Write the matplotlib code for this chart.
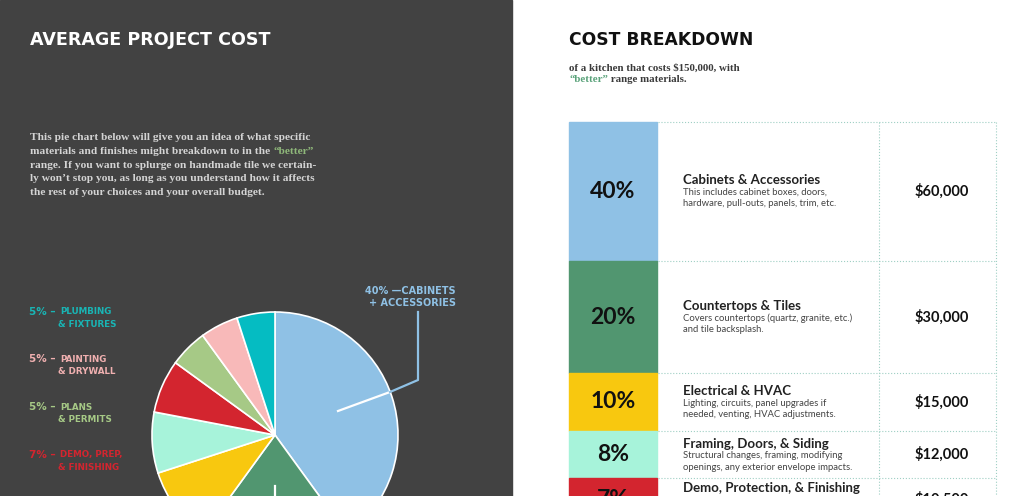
import numpy as np
import matplotlib.pyplot as plt
from matplotlib.patches import Rectangle

# data
pie_labels = ['Cabinets + Accessories', 'Countertops & Tiles', 'Electrical & HVAC',
              'Framing, Doors & Siding', 'Demo, Prep & Finishing', 'Plans & Permits',
              'Painting & Drywall', 'Plumbing & Fixtures']
pie_pcts = [40, 20, 10, 8, 7, 5, 5, 5]
pie_colors = ['#8fc1e5', '#519670', '#f8c80f', '#a7f3da', '#d3252f', '#a6c986', '#f8b9b9', '#05bcc2']

row_pcts = ['40%', '20%', '10%', '8%', '7%']
row_titles = ['Cabinets & Accessories', 'Countertops & Tiles', 'Electrical & HVAC',
              'Framing, Doors, & Siding', 'Demo, Protection, & Finishing']
row_desc = [['This includes cabinet boxes, doors,', 'hardware, pull-outs, panels, trim, etc.'],
            ['Covers countertops (quartz, granite, etc.)', 'and tile backsplash.'],
            ['Lighting, circuits, panel upgrades if', 'needed, venting, HVAC adjustments.'],
            ['Structural changes, framing, modifying', 'openings, any exterior envelope impacts.'],
            ['', '']]
row_amounts = ['$60,000', '$30,000', '$15,000', '$12,000', '$10,500']

# left side labels (pct, first line, second line, color)
side_labels = [('5% \u2013', 'PLUMBING', '& FIXTURES', '#19b5b5'),
               ('5% \u2013', 'PAINTING', '& DRYWALL', '#f0b0b0'),
               ('5% \u2013', 'PLANS', '& PERMITS', '#a6c986'),
               ('7% \u2013', 'DEMO, PREP,', '& FINISHING', '#d3252f')]

W, H = 1024, 496
def py(y):
    return H - y

fig = plt.figure(figsize=(10.24, 4.96), dpi=100)
ax = fig.add_axes([0, 0, 1, 1])
ax.set_xlim(0, W)
ax.set_ylim(0, H)
ax.axis('off')

# left dark panel
ax.add_patch(Rectangle((0, 0), 512, H, color='#424242', zorder=0))

ax.text(30, py(40), 'AVERAGE PROJECT COST', color='white', fontsize=12.6,
        fontweight='bold', family='DejaVu Sans', va='center')

serif = 'Liberation Serif'
para = ['This pie chart below will give you an idea of what specific',
        'materials and finishes might breakdown to in the ',
        'range. If you want to splurge on handmade tile we certain-',
        'ly won\u2019t stop you, as long as you understand how it affects',
        'the rest of your choices and your overall budget.']
for i, line in enumerate(para):
    t = ax.text(30, py(138 + i * 13.6), line, color='#d4d4d4', fontsize=8.2,
                family=serif, fontweight='bold', va='center')
    if i == 1:
        ax.annotate('\u201cbetter\u201d', xy=(1, 0), xycoords=t, color='#8fb87a',
                    fontsize=8.2, family=serif, fontweight='bold', va='bottom')

# pie
ax.pie(pie_pcts, colors=pie_colors, startangle=90, counterclock=False,
       center=(275, py(435)), radius=123,
       wedgeprops=dict(edgecolor='white', linewidth=1.2))
ax.set_xlim(0, W)
ax.set_ylim(0, H)
ax.set_aspect('equal')

# leader lines
ax.plot([338, 390], [py(411), py(392)], color='white', lw=1.6, zorder=5)
ax.plot([390, 418, 418], [py(392), py(380), py(312)], color='#8fc1e5', lw=1.6, zorder=5)
ax.plot([275, 275], [py(486), py(498)], color='white', lw=1.6, zorder=5, clip_on=False)

ax.text(456, py(291), '40% \u2014CABINETS', color='#8fc1e5', fontsize=7,
        fontweight='bold', ha='right', va='center')
ax.text(456, py(303), '+ ACCESSORIES', color='#8fc1e5', fontsize=7,
        fontweight='bold', ha='right', va='center')

for i, (p, l1, l2, c) in enumerate(side_labels):
    y0 = 312 + i * 47.5
    ax.text(29, py(y0), p, color=c, fontsize=7.5, fontweight='bold', va='center')
    ax.text(60, py(y0), l1, color=c, fontsize=6.3, fontweight='bold', va='center')
    ax.text(58, py(y0 + 12.5), l2, color=c, fontsize=6.3, fontweight='bold', va='center')

# right side
ax.text(569, py(40), 'COST BREAKDOWN', color='#111111', fontsize=12.3,
        fontweight='bold', family='DejaVu Sans', va='center')
ax.text(569, py(68), 'of a kitchen that costs $150,000, with', color='#3a3a3a',
        fontsize=7.8, family=serif, fontweight='bold', va='center')
t = ax.text(569, py(80), '\u201cbetter\u201d', color='#5aa27a', fontsize=7.8,
            family=serif, fontweight='bold', va='center')
ax.annotate(' range materials.', xy=(1, 0), xycoords=t, color='#3a3a3a',
            fontsize=7.8, family=serif, fontweight='bold', va='bottom')

# table
row_top = [122, 261, 373, 431, 478]
row_bot = [261, 373, 431, 478, 520]
table_colors = pie_colors[:5]
grid_c = '#9fcfc4'
sans = 'Lato'
for i in range(5):
    top, bot = row_top[i], row_bot[i]
    c = (top + bot) / 2
    ax.add_patch(Rectangle((569, py(bot)), 88, bot - top, color=table_colors[i],
                           zorder=1, clip_on=False))
    ax.plot([658, 996], [py(top), py(top)], color=grid_c, lw=0.8, ls=':', zorder=2)
    ax.text(613, py(c), row_pcts[i], fontsize=16.5, fontweight='bold',
            family=sans, color='#111111', ha='center', va='center', zorder=3)
    ax.text(683, py(c - 11), row_titles[i], fontsize=9.5, fontweight='bold',
            family=sans, color='#222222', va='center', zorder=3)
    for j, d in enumerate(row_desc[i]):
        ax.text(683, py(c + 1 + j * 11.5), d, fontsize=6.8, family=sans,
                color='#444444', va='center', zorder=3)
    ax.text(942, py(c), row_amounts[i], fontsize=10.5, fontweight='bold',
            family=sans, color='#111111', ha='center', va='center', zorder=3)

for x in [879, 996]:
    ax.plot([x, x], [py(122), py(500)], color=grid_c, lw=0.8, ls=':', zorder=2)

fig.savefig('out.png', dpi=100)
